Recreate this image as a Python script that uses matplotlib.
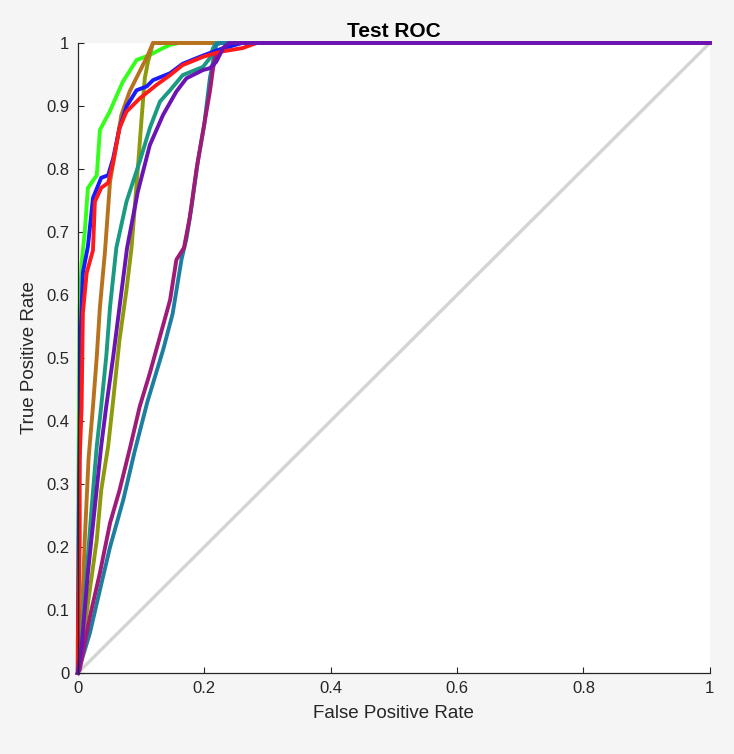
import numpy as np
import matplotlib
matplotlib.use("Agg")
import matplotlib.pyplot as plt

plt.rcParams['font.family'] = ['Liberation Sans', 'DejaVu Sans']

# ROC curves (false positive rate, true positive rate)
green_fpr = [0, 0.001, 0.003, 0.006, 0.008, 0.011, 0.016, 0.030, 0.035, 0.050, 0.071, 0.093, 0.114, 0.135, 0.146, 0.16, 1]
green_tpr = [0, 0.30, 0.58, 0.65, 0.671, 0.70, 0.77, 0.79, 0.862, 0.89, 0.938, 0.973, 0.981, 0.992, 0.997, 1, 1]

blue_fpr = [0, 0.002, 0.005, 0.008, 0.016, 0.024, 0.037, 0.048, 0.056, 0.066, 0.077, 0.093, 0.109, 0.119, 0.146, 0.166, 0.198, 0.225, 0.26, 1]
blue_tpr = [0, 0.30, 0.55, 0.635, 0.677, 0.754, 0.786, 0.79, 0.817, 0.865, 0.899, 0.925, 0.931, 0.941, 0.952, 0.967, 0.980, 0.990, 1, 1]

red_fpr = [0, 0.0, 0.003, 0.003, 0.006, 0.008, 0.014, 0.024, 0.027, 0.037, 0.048, 0.056, 0.066, 0.077, 0.098, 0.124, 0.146, 0.166, 0.198, 0.225, 0.261, 0.283, 1]
red_tpr = [0, 0.05, 0.211, 0.338, 0.423, 0.571, 0.635, 0.671, 0.748, 0.77, 0.778, 0.812, 0.865, 0.891, 0.912, 0.933, 0.949, 0.965, 0.978, 0.986, 0.992, 1, 1]

brown_fpr = [0, 0.006, 0.011, 0.017, 0.024, 0.030, 0.035, 0.043, 0.051, 0.061, 0.069, 0.082, 0.098, 0.111, 0.119, 1]
brown_tpr = [0, 0.079, 0.211, 0.340, 0.423, 0.502, 0.581, 0.669, 0.78, 0.838, 0.886, 0.923, 0.955, 0.981, 1, 1]

olive_fpr = [0, 0.008, 0.019, 0.030, 0.037, 0.048, 0.056, 0.066, 0.077, 0.085, 0.095, 0.101, 0.106, 0.111, 0.119, 1]
olive_tpr = [0, 0.052, 0.132, 0.211, 0.29, 0.36, 0.433, 0.529, 0.608, 0.675, 0.801, 0.881, 0.944, 0.97, 1, 1]

teal_fpr = [0, 0.006, 0.014, 0.022, 0.030, 0.037, 0.045, 0.051, 0.061, 0.077, 0.098, 0.114, 0.130, 0.146, 0.166, 0.198, 0.209, 0.214, 0.219, 1]
teal_tpr = [0, 0.052, 0.159, 0.264, 0.36, 0.423, 0.502, 0.581, 0.675, 0.748, 0.812, 0.865, 0.907, 0.925, 0.949, 0.962, 0.976, 0.992, 1, 1]

purple_fpr = [0, 0.006, 0.016, 0.027, 0.037, 0.045, 0.056, 0.066, 0.078, 0.095, 0.114, 0.135, 0.156, 0.172, 0.198, 0.209, 0.219, 0.230, 0.24, 1]
purple_tpr = [0, 0.042, 0.159, 0.264, 0.36, 0.423, 0.502, 0.581, 0.675, 0.764, 0.838, 0.886, 0.923, 0.944, 0.957, 0.96, 0.97, 0.992, 1, 1]

cyan_fpr = [0, 0.019, 0.035, 0.051, 0.072, 0.090, 0.110, 0.135, 0.150, 0.164, 0.172, 0.180, 0.190, 0.200, 0.209, 0.219, 0.226, 1]
cyan_tpr = [0, 0.063, 0.132, 0.20, 0.275, 0.352, 0.43, 0.513, 0.57, 0.656, 0.69, 0.74, 0.812, 0.87, 0.944, 0.997, 1, 1]

magenta_fpr = [0, 0.003, 0.019, 0.035, 0.051, 0.066, 0.083, 0.098, 0.114, 0.130, 0.146, 0.156, 0.168, 0.177, 0.188, 0.198, 0.209, 0.214, 0.219, 0.230, 0.24, 1]
magenta_tpr = [0, 0.005, 0.089, 0.159, 0.238, 0.29, 0.359, 0.423, 0.476, 0.534, 0.592, 0.656, 0.675, 0.722, 0.801, 0.859, 0.923, 0.96, 0.981, 0.992, 1, 1]

curves = [
    (green_fpr, green_tpr, '#33ff1a'),
    (olive_fpr, olive_tpr, '#8c9a0c'),
    (brown_fpr, brown_tpr, '#b8721e'),
    (teal_fpr, teal_tpr, '#1a9a82'),
    (cyan_fpr, cyan_tpr, '#1c7fa0'),
    (magenta_fpr, magenta_tpr, '#a01a78'),
    (blue_fpr, blue_tpr, '#1a1aff'),
    (red_fpr, red_tpr, '#ff1a1a'),
    (purple_fpr, purple_tpr, '#6a14b4'),
]

fig = plt.figure(figsize=(7.34, 7.54), dpi=100, facecolor='#f5f5f5')
ax = fig.add_axes([0.106, 0.1074, 0.861, 0.8356])

ax.plot([0, 1], [0, 1], color='#d4d4d4', lw=2.4, zorder=1)
for fpr, tpr, color in curves:
    ax.plot(fpr, tpr, color=color, lw=2.8, solid_joinstyle='round', clip_on=False)

ax.set_xlim(0, 1)
ax.set_ylim(0, 1)
ax.set_xticks(np.arange(0, 1.01, 0.2))
ax.set_xticklabels(['0', '0.2', '0.4', '0.6', '0.8', '1'])
ax.set_yticks(np.arange(0, 1.01, 0.1))
ax.set_yticklabels(['0', '0.1', '0.2', '0.3', '0.4', '0.5', '0.6', '0.7', '0.8', '0.9', '1'])
ax.tick_params(direction='in', length=4, labelsize=12, colors='#262626', pad=6)
for side in ['top', 'right']:
    ax.spines[side].set_visible(False)
for side in ['left', 'bottom']:
    ax.spines[side].set_color('#262626')
    ax.spines[side].set_linewidth(0.9)

ax.set_xlabel('False Positive Rate', fontsize=13.5, color='#262626', labelpad=6)
ax.set_ylabel('True Positive Rate', fontsize=13.5, color='#262626', labelpad=6)
ax.set_title('Test ROC', fontsize=15, fontweight='bold', pad=4)

fig.savefig('out.png', dpi=100, facecolor=fig.get_facecolor())
